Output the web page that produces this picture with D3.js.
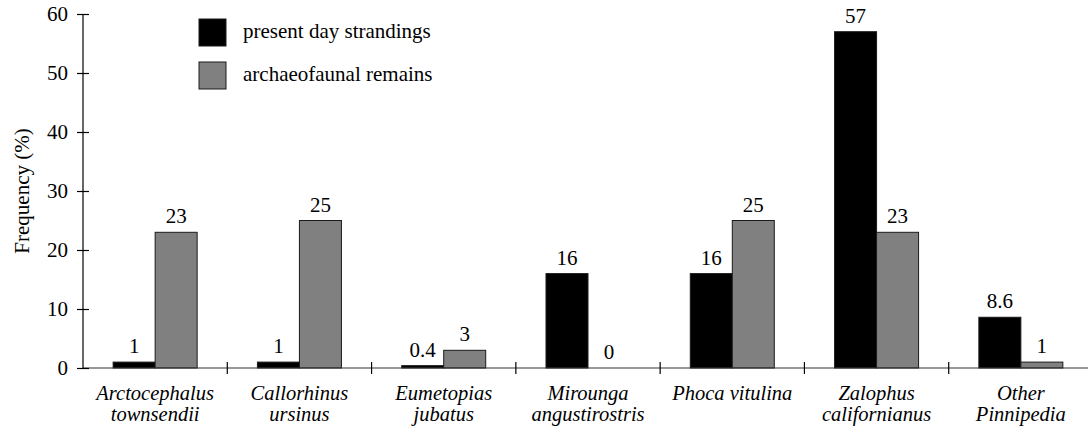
<!DOCTYPE html>
<html>
<head>
<meta charset="utf-8">
<script src="https://cdn.jsdelivr.net/npm/d3@7"></script>
<style>
  body { margin: 0; background: #fff; }
  svg text { fill: #000; }
</style>
</head>
<body>
<div id="chart"></div>
<script>
// data
const categories = ["Arctocephalus townsendii", "Callorhinus ursinus", "Eumetopias jubatus",
  "Mirounga angustirostris", "Phoca vitulina", "Zalophus californianus", "Other Pinnipedia"];
const categoryLines = [["Arctocephalus", "townsendii"], ["Callorhinus", "ursinus"], ["Eumetopias", "jubatus"],
  ["Mirounga", "angustirostris"], ["Phoca vitulina"], ["Zalophus", "californianus"], ["Other", "Pinnipedia"]];
const seriesNames = ["present day strandings", "archaeofaunal remains"];
const strandings = [1, 1, 0.4, 16, 16, 57, 8.6];
const remains = [23, 25, 3, 0, 25, 23, 1];
const strandingLabels = ["1", "1", "0.4", "16", "16", "57", "8.6"];
const remainsLabels = ["23", "25", "3", "0", "25", "23", "1"];
const yTicks = [0, 10, 20, 30, 40, 50, 60];
const colors = ["#000000", "#808080"];

const width = 1088, height = 427;
const plotLeft = 83, plotRight = 1093, plotTop = 14, plotBottom = 368;
const serif = "'Liberation Serif', 'Times New Roman', serif";

const svg = d3.select("#chart").append("svg")
  .attr("width", width)
  .attr("height", height);

const x = d3.scaleBand().domain(categories).range([plotLeft, plotRight]);
// two bars, ~42px each, centred in each category
const groupPad = (x.bandwidth() / 42 - 2) / 2;
const xs = d3.scaleBand().domain(seriesNames).range([0, x.bandwidth()]).paddingOuter(groupPad);
const y = d3.scaleLinear().domain([0, 60]).range([plotBottom, plotTop]);

const rows = categories.map((c, i) => ({
  cat: c,
  vals: [
    { s: seriesNames[0], v: strandings[i], label: strandingLabels[i], color: colors[0] },
    { s: seriesNames[1], v: remains[i], label: remainsLabels[i], color: colors[1] }
  ]
}));

// bars
const groups = svg.selectAll("g.grp")
  .data(rows)
  .join("g")
  .attr("class", "grp")
  .attr("transform", d => `translate(${x(d.cat)},0)`);

groups.selectAll("rect")
  .data(d => d.vals.filter(v => v.v > 0))
  .join("rect")
  .attr("x", d => xs(d.s))
  .attr("y", d => y(d.v))
  .attr("width", xs.bandwidth())
  .attr("height", d => y(0) - y(d.v))
  .attr("fill", d => d.color)
  .attr("stroke", "#1a1a1a")
  .attr("stroke-width", 1);

groups.selectAll("text.val")
  .data(d => d.vals)
  .join("text")
  .attr("class", "val")
  .attr("x", d => xs(d.s) + xs.bandwidth() / 2)
  .attr("y", d => y(d.v) - 9)
  .attr("text-anchor", "middle")
  .style("font-family", serif)
  .style("font-size", "21px")
  .text(d => d.label);

// x axis line with category divider ticks
svg.append("line")
  .attr("x1", plotLeft).attr("x2", plotRight)
  .attr("y1", y(0)).attr("y2", y(0))
  .attr("stroke", "#333").attr("stroke-width", 1.2);

svg.selectAll("line.div")
  .data(categories.slice(1))
  .join("line")
  .attr("class", "div")
  .attr("x1", d => x(d)).attr("x2", d => x(d))
  .attr("y1", y(0) - 6).attr("y2", y(0) + 6)
  .attr("stroke", "#000").attr("stroke-width", 1.2);

// category labels (italic, two lines)
const catText = svg.selectAll("text.cat")
  .data(categories)
  .join("text")
  .attr("class", "cat")
  .attr("text-anchor", "middle")
  .style("font-family", serif)
  .style("font-size", "20.5px")
  .style("font-style", "italic");
catText.selectAll("tspan")
  .data((d, i) => categoryLines[i].map(t => ({ t, cat: d })))
  .join("tspan")
  .attr("x", d => x(d.cat) + x.bandwidth() / 2)
  .attr("y", (d, j) => 400 + j * 21)
  .text(d => d.t);

// y axis
const yAxis = svg.append("g")
  .attr("transform", `translate(${plotLeft},0)`)
  .call(d3.axisLeft(y).tickValues(yTicks).tickSize(6).tickPadding(9).tickFormat(d3.format("d")));
yAxis.attr("font-family", null).attr("font-size", null);
yAxis.select(".domain").attr("d", `M0,${y(60)}V${y(0)}`).attr("stroke", "#000").attr("stroke-width", 1.2);
yAxis.selectAll(".tick line").attr("x1", 6).attr("stroke-width", 1.2);
yAxis.selectAll(".tick text")
  .style("font-size", "21px")
  .style("font-family", serif);

svg.append("text")
  .attr("transform", `translate(29,${(plotTop + plotBottom) / 2}) rotate(-90)`)
  .attr("text-anchor", "middle")
  .style("font-family", serif)
  .style("font-size", "21px")
  .text("Frequency (%)");

// legend
const legend = svg.selectAll("g.leg")
  .data(seriesNames)
  .join("g")
  .attr("class", "leg")
  .attr("transform", (d, i) => `translate(199,${19 + i * 43})`);
legend.append("rect")
  .attr("width", 27).attr("height", 27)
  .attr("fill", (d, i) => colors[i])
  .attr("stroke", "#1a1a1a");
legend.append("text")
  .attr("x", 44).attr("y", 19)
  .style("font-family", serif)
  .style("font-size", "21px")
  .text(d => d);
</script>
</body>
</html>
